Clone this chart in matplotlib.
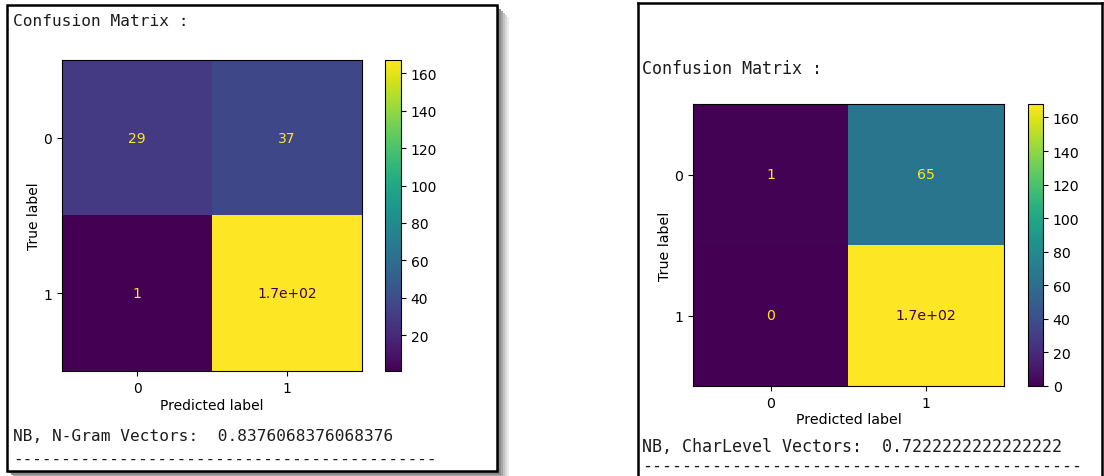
import matplotlib
matplotlib.use("Agg")
import matplotlib.pyplot as plt
import numpy as np
from matplotlib.patches import Rectangle
from matplotlib.lines import Line2D

# ---- data ----
class_labels = ["0", "1"]
cm_ngram = [[29, 37], [1, 167]]
cm_char = [[1, 65], [0, 168]]
ngram_text = "NB, N-Gram Vectors:  0.8376068376068376"
char_text = "NB, CharLevel Vectors:  0.7222222222222222"
header_text = "Confusion Matrix :"
dash_line = "-" * 44

W, H = 1104, 477
fig = plt.figure(figsize=(W / 100, H / 100), dpi=100)
fig.patch.set_facecolor("white")


def px_axes(x0, y0, x1, y1):
    return fig.add_axes([x0 / W, 1 - y1 / H, (x1 - x0) / W, (y1 - y0) / H])


def fmt(v):
    return format(v, ".2g")


def draw_cm(cm, box, cbox, fs):
    cm = np.array(cm)
    ax = px_axes(*box)
    im = ax.imshow(cm, cmap="viridis", aspect="auto", interpolation="nearest")
    cmap = im.cmap
    thresh = (cm.max() + cm.min()) / 2.0
    for i in range(cm.shape[0]):
        for j in range(cm.shape[1]):
            color = cmap(0.0) if cm[i, j] >= thresh else cmap(1.0)
            ax.text(j, i, fmt(cm[i, j]), ha="center", va="center",
                    color=color, fontsize=fs)
    ax.set_xticks(range(len(class_labels)))
    ax.set_yticks(range(len(class_labels)))
    ax.set_xticklabels(class_labels, fontsize=fs)
    ax.set_yticklabels(class_labels, fontsize=fs)
    ax.set_xlabel("Predicted label", fontsize=fs, labelpad=2)
    ax.set_ylabel("True label", fontsize=fs, labelpad=2)
    cax = px_axes(*cbox)
    cb = fig.colorbar(im, cax=cax)
    cb.ax.tick_params(labelsize=fs)
    return ax


draw_cm(cm_ngram, (62, 61, 362, 372), (385, 61, 401, 372), 10)
draw_cm(cm_char, (693, 105, 1004, 387), (1028, 105, 1043, 387), 10.2)

tc = "#1c1c1c"
mono = "DejaVu Sans Mono"
fig.text(13 / W, 1 - 22 / H, header_text, family=mono, fontsize=11.6,
         color=tc, va="center", ha="left")
fig.text(13 / W, 1 - 437 / H, ngram_text, family=mono, fontsize=11.6,
         color=tc, va="center", ha="left")
fig.text(13 / W, 1 - 459 / H, dash_line, family=mono, fontsize=11.5,
         color=tc, va="center", ha="left")

fig.text(642 / W, 1 - 69 / H, header_text, family=mono, fontsize=12,
         color=tc, va="center", ha="left")
fig.text(642 / W, 1 - 447 / H, char_text, family=mono, fontsize=12,
         color=tc, va="center", ha="left")
fig.text(642 / W, 1 - 466 / H, dash_line, family=mono, fontsize=12,
         color=tc, va="center", ha="left")

# panel borders (screenshot frames) with soft shadow
for k, g in enumerate(["#6e6e6e", "#8c8c8c", "#a8a8a8", "#c2c2c2", "#d8d8d8", "#ebebeb"]):
    off = 2 + 2 * k
    sh = Rectangle(((7 + off) / W, 1 - (472 + off) / H), 490 / W, 466 / H,
                   transform=fig.transFigure, facecolor=g,
                   edgecolor="none", zorder=-3 - k)
    fig.add_artist(sh)
frame = Rectangle((7 / W, 1 - 472 / H), 490 / W, 466 / H,
                  transform=fig.transFigure, facecolor="white",
                  edgecolor="black", lw=1.8, zorder=-1)
fig.add_artist(frame)

fig.add_artist(Line2D([638 / W, 638 / W], [1 - 4 / H, 0], transform=fig.transFigure,
                      color="black", lw=1.8))
fig.add_artist(Line2D([638 / W, 1102 / W], [1 - 4 / H, 1 - 4 / H],
                      transform=fig.transFigure, color="black", lw=1.8))
fig.add_artist(Line2D([1102 / W, 1102 / W], [1 - 4 / H, 0], transform=fig.transFigure,
                      color="black", lw=1.8))

fig.savefig("out.png", dpi=100)
